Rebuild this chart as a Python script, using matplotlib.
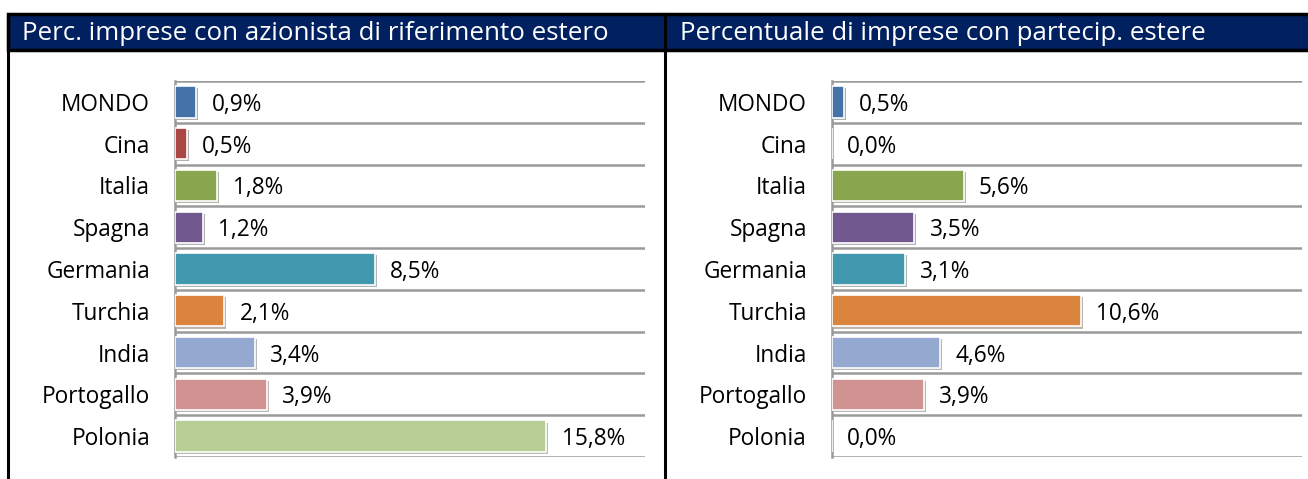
import matplotlib.pyplot as plt
import matplotlib.patheffects as pe
from matplotlib.patches import Rectangle
from matplotlib.lines import Line2D
import numpy as np

plt.rcParams['font.family'] = ['Open Sans', 'DejaVu Sans']

categories = ["MONDO", "Cina", "Italia", "Spagna", "Germania", "Turchia", "India", "Portogallo", "Polonia"]
azionista = [0.9, 0.5, 1.8, 1.2, 8.5, 2.1, 3.4, 3.9, 15.8]
partecip = [0.5, 0.0, 5.6, 3.5, 3.1, 10.6, 4.6, 3.9, 0.0]
colors = ["#4572A7", "#AA4643", "#89A54E", "#71588F", "#4198AF",
          "#DB843D", "#93A9CF", "#D19392", "#B9CD96"]
titles = ["Perc. imprese con azionista di riferimento estero",
          "Percentuale di imprese con partecip. estere"]

W, H = 1308, 479
fig = plt.figure(figsize=(W/100, H/100), dpi=100)

def fx(px):
    return px/W

def fy(py):
    return 1 - py/H

# header band and frame lines
fig.patches.append(Rectangle((fx(8), fy(50)), fx(1312) - fx(8), fy(14) - fy(50),
                             transform=fig.transFigure, facecolor="#002060",
                             edgecolor="black", lw=2.5, zorder=1))
for xp in [8, 665]:
    fig.add_artist(Line2D([fx(xp), fx(xp)], [fy(14), 0], color="black", lw=2.2,
                          transform=fig.transFigure))
fig.text(fx(22), fy(33), titles[0], color="white", fontsize=18.6, va="center", ha="left")
fig.text(fx(680), fy(33), titles[1], color="white", fontsize=18.6, va="center", ha="left")

shadow = [pe.SimplePatchShadow(offset=(1.5, -1.5), alpha=0.35), pe.Normal()]

for k, (vals, left) in enumerate([(azionista, 175), (partecip, 832)]):
    ax = fig.add_axes([fx(left), fy(457), fx(470), fy(81) - fy(457)])
    y = np.arange(len(categories))
    bars = ax.barh(y, vals, height=0.75, color=colors, edgecolor="white", lw=1.2, zorder=3)
    for b in bars:
        b.set_path_effects(shadow)
    ax.hlines(np.arange(-0.5, len(categories)), 0, 20, color="#9A9A9A", lw=1.8, zorder=2)
    ax.set_xlim(0, 20)
    ax.set_ylim(len(categories) - 0.5, -0.5)
    for sp in ["top", "right", "bottom"]:
        ax.spines[sp].set_visible(False)
    ax.spines["left"].set_color("#9A9A9A")
    ax.spines["left"].set_linewidth(1.8)
    ax.set_xticks([])
    ax.set_yticks(y)
    ax.set_yticklabels(categories, fontsize=16.3, va="center_baseline")
    ax.tick_params(axis="y", length=0, pad=18)
    for i, v in enumerate(vals):
        lbl = f"{v:.1f}".replace(".", ",") + "%"
        ax.annotate(lbl, xy=(v, i), xytext=(11, 0), textcoords="offset points",
                    va="center_baseline", ha="left", fontsize=16.3)

fig.savefig("out.png", dpi=100)
